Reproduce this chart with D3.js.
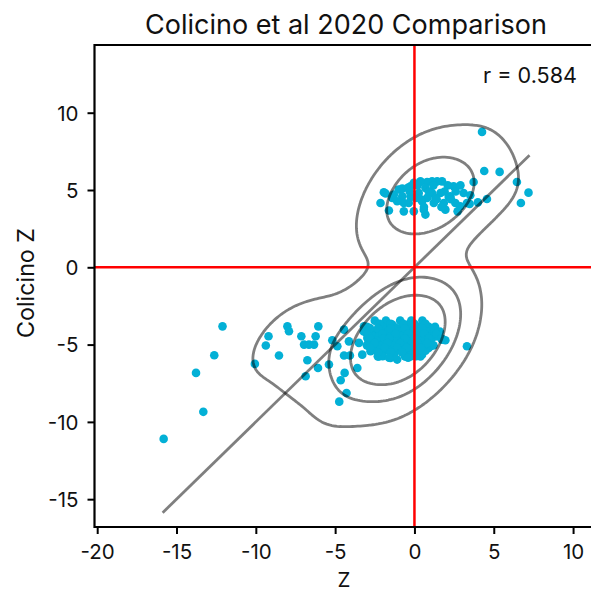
<!DOCTYPE html>
<html>
<head>
<meta charset="utf-8">
<script src="https://cdn.jsdelivr.net/npm/d3@7"></script>
<style>
  html, body { margin: 0; padding: 0; background: #fff; }
  svg { display: block; font-family: Inter, "Noto Sans", sans-serif; }
</style>
</head>
<body>
<svg id="chart" width="591" height="595"></svg>
<script>
// ---------------- DATA ----------------
const title = "Colicino et al 2020 Comparison";
const xLabel = "Z";
const yLabel = "Colicino Z";
const rText = "r = 0.584";
const xTicks = [-20, -15, -10, -5, 0, 5, 10];
const yTicks = [-15, -10, -5, 0, 5, 10];
const refX = [0];   // vertical reference line
const refY = [0];   // horizontal reference line
const identitySlope = 1;
const identityIntercept = 0;
const kdeIsoProportions = [0.085, 0.34, 0.62];
const kdeBwAdjust = 1.2;

// Z scores (x)
const zScore = [
  // upper cluster
  4.26, 4.40, 5.37, 6.46, 7.19, 6.71, 3.73, 4.57, 4.00, 3.48, 2.89, 2.72, 3.52, 2.47, 1.95, 2.16,
  1.64, 1.74, 1.43, 1.11, 0.80, 0.38, -0.25, -0.77, -1.93, -2.14, -1.61, -1.40, -0.67, -0.04, 0.69, 0.59,
  -1.82, -1.30, -0.99, -0.77, -0.67, -0.42, -0.25, -0.36, 0.27, 0.48, 0.69, 1.11, 1.22, 1.85, 2.26, 2.58,
  3.10, 3.31, 0.06, 0.80, -1.09, -0.04, 1.32,
  0.2, 1.2, 2.1, 2.9, -0.3, 0.9, 1.9, 2.6, 0.4, 1.4, 2.3, 0.6, 1.7,
  // lower outliers
  -12.10, -12.62, -13.77, -13.31, -15.81,
  // lower left group
  -10.06, -9.37, -9.20, -8.54, -8.01, -7.91, -7.13, -6.96, -6.65, -6.33, -6.23, -6.06, -6.75, -6.86, -6.08, -5.39,
  -5.18, -4.86,
  // lower mid
  -4.44, -4.13, -4.44, -4.07, -3.60, -4.40, -4.65, -4.28, -4.74, -3.50, -3.29, -3.18, -2.97, -2.66, -2.31,
  // lower dense
  -2.87, -2.77, -2.66, -2.24, -2.45, -2.24, -2.03, -1.72, -1.82, -1.61, -1.51, -1.19, -1.09, -0.99, -1.09, -0.57,
  -0.67, -0.46, -0.57, -0.25, -0.14, -0.19, 0.38, 0.59, 0.27, 0.80, 1.11, 1.01, 0.48, 1.43, 1.74, 3.31,
  -1.30, -0.77, -1.93, -2.45, 0.06, -1.40, -0.88, -0.25, -2.14, 0.10, -0.40, -1.40, 0.90, 0.38, 1.95,
  -1.50, -0.30, 0.20, -0.90, -1.80, 0.70, -2.10, -0.60,
  -2.5, -1.8, -0.9, -0.2, 0.5,
  -3.0, -2.0, -1.3, -0.8, 0.2, 0.9, 1.3,
  -3.2, -2.7, -1.7, -1.0, -0.5, 0.3, 1.0, 1.6,
  -2.6, -2.2, -1.3, -0.8, -0.3, 0.2, 0.8, 1.3,
  -2.9, -2.4, -1.1, -0.4, 0.4, 1.0,
  -3.0, -2.2, -1.3, -0.7, 0.0, 0.6, 1.2,
  -2.6, -1.7, -1.0, -0.3, 0.3,
  -2.0, -1.3, -0.6, 0.1,
  -2.2, -1.5, -0.7, 0.0, 0.7,
  -2.8, -2.3, -1.5, -0.6, 0.5, 1.2,
  -3.0, -2.0, -1.2, -0.4, 0.6, 1.4,
  -2.8, -1.9, -1.6, -0.6, 0.0, 0.9, 1.7,
  -2.5, -1.7, -0.9, 0.2, 0.8,
  -2.8, -1.9, -1.1, -0.5, 0.4,
  -2.3, -1.5, -0.8, 0.0,
  -1.6, -0.4
];
// Colicino Z scores (y)
const colicinoZ = [
  // upper cluster
  8.76, 6.23, 6.17, 5.52, 4.83, 4.16, 5.52, 4.42, 4.20, 4.10, 3.95, 3.62, 4.66, 5.24, 3.73, 4.55,
  4.81, 5.56, 5.56, 5.56, 5.52, 5.56, 5.24, 5.09, 4.85, 4.16, 3.67, 4.49, 3.62, 3.62, 3.41, 3.73,
  4.77, 4.70, 5.03, 4.59, 4.16, 5.14, 4.59, 4.16, 4.81, 4.27, 5.14, 4.81, 4.16, 4.16, 4.59, 4.16,
  4.81, 4.16, 4.49, 4.49, 4.27, 5.46, 4.49,
  5.30, 5.30, 5.30, 5.30, 4.90, 4.90, 4.90, 4.90, 4.40, 4.40, 4.40, 3.90, 3.90,
  // lower outliers
  -3.82, -5.69, -6.83, -9.35, -11.10,
  // lower left group
  -6.25, -5.06, -4.46, -5.71, -3.82, -4.14, -4.46, -5.00, -5.00, -5.00, -4.46, -3.82, -6.01, -7.05, -6.51, -6.29,
  -4.72, -5.11,
  // lower mid
  -4.03, -4.79, -5.71, -5.71, -6.51, -6.83, -7.31, -8.13, -8.69, -4.89, -5.65, -3.82, -4.57, -5.32, -5.76,
  // lower dense
  -3.92, -5.43, -5.00, -3.92, -4.35, -5.76, -4.89, -3.92, -4.46, -5.32, -5.86, -3.92, -4.57, -5.21, -5.97, -3.92,
  -4.46, -5.00, -5.76, -4.03, -4.68, -5.21, -4.14, -4.68, -5.21, -4.14, -4.57, -5.11, -5.65, -4.46, -4.68, -5.11,
  -5.65, -5.43, -5.43, -5.11, -4.35, -4.24, -4.24, -5.76, -3.82, -3.82, -3.70, -3.70, -5.21, -5.76, -4.72,
  -4.70, -4.40, -4.90, -4.90, -5.00, -5.40, -4.30, -5.30,
  -3.45, -3.45, -3.45, -3.45, -3.45,
  -3.85, -3.85, -3.85, -3.85, -3.85, -3.85, -3.85,
  -4.15, -4.15, -4.15, -4.15, -4.15, -4.15, -4.15, -4.15,
  -4.45, -4.45, -4.45, -4.45, -4.45, -4.45, -4.45, -4.45,
  -4.75, -4.75, -4.75, -4.75, -4.75, -4.75,
  -5.05, -5.05, -5.05, -5.05, -5.05, -5.05, -5.05,
  -5.35, -5.35, -5.35, -5.35, -5.35,
  -5.75, -5.75, -5.75, -5.75,
  -3.65, -3.65, -3.65, -3.65, -3.65,
  -3.95, -3.95, -3.95, -3.95, -3.95, -3.95,
  -4.3, -4.3, -4.3, -4.3, -4.3, -4.3,
  -4.6, -4.6, -4.6, -4.6, -4.6, -4.6, -4.6,
  -4.9, -4.9, -4.9, -4.9, -4.9,
  -5.2, -5.2, -5.2, -5.2, -5.2,
  -5.5, -5.5, -5.5, -5.5,
  -5.85, -5.85
];

// ---------------- LAYOUT ----------------
const svg = d3.select("#chart");
const mL = 94.5, mR = 591, mT = 45, mB = 527;

const x = d3.scaleLinear().domain([-20.17, 11.13]).range([mL, mR]);
const y = d3.scaleLinear().domain([-16.8, 14.38]).range([mB, mT]);

svg.append("defs").append("clipPath").attr("id", "plotclip")
  .append("rect").attr("x", mL).attr("y", mT).attr("width", mR - mL).attr("height", mB - mT);

const plot = svg.append("g").attr("clip-path", "url(#plotclip)");

const points = zScore.map((v, i) => [v, colicinoZ[i]]);

// scatter points
plot.append("g").selectAll("circle").data(points).join("circle")
  .attr("cx", d => x(d[0])).attr("cy", d => y(d[1])).attr("r", 4.3)
  .attr("fill", "#03b0d6");

// ---------------- KDE (gaussian_kde, Scott's rule) ----------------
const n = points.length;
const mx = d3.mean(zScore), my = d3.mean(colicinoZ);
let sxx = 0, syy = 0, sxy = 0;
points.forEach(([a, b]) => { sxx += (a - mx) ** 2; syy += (b - my) ** 2; sxy += (a - mx) * (b - my); });
sxx /= (n - 1); syy /= (n - 1); sxy /= (n - 1);
const fac = Math.pow(n, -1 / 6) * kdeBwAdjust;
const kxx = sxx * fac * fac, kyy = syy * fac * fac, kxy = sxy * fac * fac;
const det = kxx * kyy - kxy * kxy;
const ixx = kyy / det, iyy = kxx / det, ixy = -kxy / det;
const bwx = fac * Math.sqrt(sxx), bwy = fac * Math.sqrt(syy);
const cut = 3, G = 200;
const gx0 = d3.min(zScore) - cut * bwx, gx1 = d3.max(zScore) + cut * bwx;
const gy0 = d3.min(colicinoZ) - cut * bwy, gy1 = d3.max(colicinoZ) + cut * bwy;
const sx = (gx1 - gx0) / (G - 1), sy = (gy1 - gy0) / (G - 1);
const grid = new Float64Array(G * G);
for (let j = 0; j < G; j++) {
  const gy = gy0 + j * sy;
  for (let i = 0; i < G; i++) {
    const gx = gx0 + i * sx;
    let s = 0;
    for (let k = 0; k < n; k++) {
      const dx = gx - points[k][0], dy = gy - points[k][1];
      s += Math.exp(-0.5 * (ixx * dx * dx + 2 * ixy * dx * dy + iyy * dy * dy));
    }
    grid[j * G + i] = s;
  }
}
const sorted = Array.from(grid).sort((a, b) => b - a);
const total = d3.sum(sorted);
const cum = [];
let acc = 0;
for (const v of sorted) { acc += v; cum.push(acc / total); }
const levels = kdeIsoProportions.map(q => {
  const t = 1 - q;
  const idx = d3.bisectLeft(cum, t);
  return sorted[Math.min(idx, sorted.length - 1)];
});

const contours = d3.contours().size([G, G]).thresholds(levels)(grid);
const toPix = c => [x(gx0 + (c[0] - 0.5) * sx), y(gy0 + (c[1] - 0.5) * sy)];
const ringLine = d3.line();
const cg = plot.append("g");
contours.forEach(ct => {
  ct.coordinates.forEach(poly => {
    poly.forEach(ring => {
      cg.append("path")
        .attr("d", ringLine(ring.map(toPix)) + "Z")
        .attr("fill", "none").attr("stroke", "#000").attr("stroke-opacity", 0.5)
        .attr("stroke-width", 2.8).attr("stroke-linejoin", "round");
    });
  });
});

// identity line
const xe = d3.extent(zScore);
plot.append("line")
  .attr("x1", x(xe[0])).attr("y1", y(identitySlope * xe[0] + identityIntercept))
  .attr("x2", x(xe[1])).attr("y2", y(identitySlope * xe[1] + identityIntercept))
  .attr("stroke", "#000").attr("stroke-opacity", 0.5).attr("stroke-width", 2.8)
  .attr("stroke-linecap", "square");

// red reference lines
refX.forEach(v => plot.append("line").attr("x1", x(v)).attr("x2", x(v)).attr("y1", mT).attr("y2", mB)
  .attr("stroke", "#ff0000").attr("stroke-width", 2.5));
refY.forEach(v => plot.append("line").attr("x1", mL).attr("x2", mR).attr("y1", y(v)).attr("y2", y(v))
  .attr("stroke", "#ff0000").attr("stroke-width", 2.5));

// ---------------- AXES ----------------
const fmt = d => String(d);
const tickFont = 20.5;
const xAxis = svg.append("g").attr("transform", `translate(0,${mB})`)
  .call(d3.axisBottom(x).tickValues(xTicks).tickFormat(fmt).tickSize(7).tickSizeOuter(0));
const yAxis = svg.append("g").attr("transform", `translate(${mL},0)`)
  .call(d3.axisLeft(y).tickValues(yTicks).tickFormat(fmt).tickSize(7).tickSizeOuter(0));
[xAxis, yAxis].forEach(g => {
  g.select(".domain").remove();
  g.selectAll(".tick line").attr("stroke", "#000").attr("stroke-width", 2);
  g.selectAll(".tick text").attr("fill", "#111").style("font-size", tickFont + "px").style("font-family", "Inter, sans-serif");
});
xAxis.selectAll(".tick text").attr("dy", null).attr("y", 32);
yAxis.selectAll(".tick text").attr("x", -16).attr("dy", "0.36em");

// spines
svg.append("path").attr("d", `M${mL},${mT}H${mR + 2}M${mL},${mT - 1}V${mB}H${mR + 2}`)
  .attr("fill", "none").attr("stroke", "#000").attr("stroke-width", 2.2);

// ---------------- TEXT ----------------
function fit(sel, target) {
  const w = sel.node().getComputedTextLength();
  const fs = parseFloat(sel.style("font-size"));
  sel.style("font-size", (fs * target / w) + "px");
}
const tt = svg.append("text").attr("x", 346).attr("y", 34).attr("text-anchor", "middle")
  .style("font-size", "24px").attr("fill", "#111").text(title);
fit(tt, 402);
svg.append("text").attr("x", 344).attr("y", 587).attr("text-anchor", "middle")
  .style("font-size", tickFont + "px").attr("fill", "#111").text(xLabel);
const yl = svg.append("text").attr("transform", "translate(34,283) rotate(-90)").attr("text-anchor", "middle")
  .style("font-size", "19px").attr("fill", "#111").text(yLabel);
fit(yl, 110);
const rt = svg.append("text").attr("x", 577).attr("y", 83).attr("text-anchor", "end")
  .style("font-size", "19px").attr("fill", "#111").text(rText);
fit(rt, 94);
</script>
</body>
</html>
